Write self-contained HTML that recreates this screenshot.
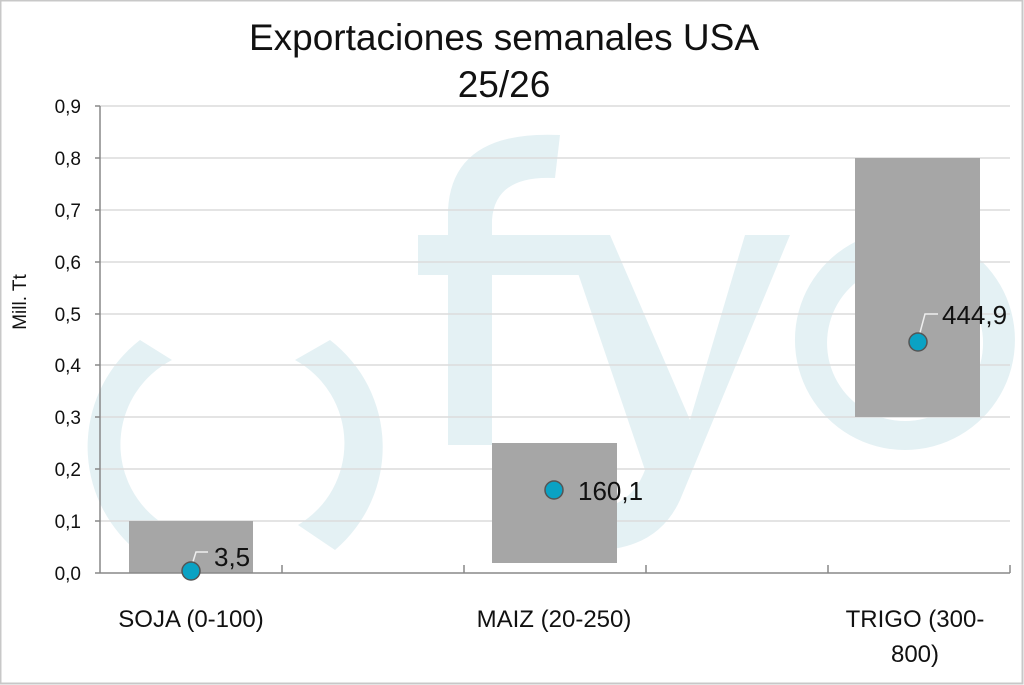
<!DOCTYPE html>
<html><head><meta charset="utf-8"><style>
html,body{margin:0;padding:0;background:#fff}
svg{display:block}
text{font-family:"Liberation Sans",sans-serif;fill:#111}
</style></head><body>
<svg width="1024" height="685" viewBox="0 0 1024 685" xmlns="http://www.w3.org/2000/svg">
<rect x="0.5" y="0.5" width="1022" height="683" fill="#fff" stroke="#c8c8c8" stroke-width="2"/>
<!-- watermark -->
<g fill="#e4f1f4" stroke="none">
<path d="M140 340 A135 135 0 0 0 130 545 L165 525 A95 95 0 0 1 172 360 Z"/>
<path d="M330 340 A135 135 0 0 1 335 550 L298 525 A95 95 0 0 0 295 360 Z"/>
<path d="M448 445 L448 210 Q452 130 560 135 L555 178 Q495 175 492 220 L492 445 Z"/>
<rect x="418" y="235" width="185" height="40"/>
<path d="M565 235 L610 235 L690 420 L745 235 L790 235 L680 500 Q655 555 580 550 L585 510 Q630 510 645 470 Z"/>
<path fill-rule="evenodd" d="M905 230 A110 110 0 1 1 904.9 230 Z M905 265 A78 78 0 1 0 905.1 265 Z"/>
</g>
<!-- grid -->
<g stroke="#dcdcdc" stroke-width="1.5">
<line x1="100" y1="106" x2="1010" y2="106"/>
<line x1="100" y1="158" x2="1010" y2="158"/>
<line x1="100" y1="210" x2="1010" y2="210"/>
<line x1="100" y1="262" x2="1010" y2="262"/>
<line x1="100" y1="314" x2="1010" y2="314"/>
<line x1="100" y1="365" x2="1010" y2="365"/>
<line x1="100" y1="417" x2="1010" y2="417"/>
<line x1="100" y1="469" x2="1010" y2="469"/>
<line x1="100" y1="521" x2="1010" y2="521"/>
</g>
<!-- bars -->
<g fill="#a6a6a6">
<rect x="129" y="521" width="124" height="52"/>
<rect x="492" y="443" width="125" height="120"/>
<rect x="855" y="158" width="125" height="259"/>
</g>
<!-- axes -->
<g stroke="#888" stroke-width="1.5">
<line x1="100" y1="106" x2="100" y2="573"/>
<line x1="100" y1="573" x2="1010" y2="573"/>
<line x1="95" y1="106" x2="100" y2="106"/><line x1="95" y1="158" x2="100" y2="158"/>
<line x1="95" y1="210" x2="100" y2="210"/><line x1="95" y1="262" x2="100" y2="262"/>
<line x1="95" y1="314" x2="100" y2="314"/><line x1="95" y1="365" x2="100" y2="365"/>
<line x1="95" y1="417" x2="100" y2="417"/><line x1="95" y1="469" x2="100" y2="469"/>
<line x1="95" y1="521" x2="100" y2="521"/><line x1="95" y1="573" x2="100" y2="573"/>
<line x1="282" y1="565" x2="282" y2="573"/><line x1="464" y1="565" x2="464" y2="573"/>
<line x1="646" y1="565" x2="646" y2="573"/><line x1="828" y1="565" x2="828" y2="573"/>
<line x1="1010" y1="565" x2="1010" y2="573"/>
</g>
<!-- y labels -->
<g font-size="19" text-anchor="end">
<text x="81" y="113">0,9</text><text x="81" y="165">0,8</text><text x="81" y="217">0,7</text>
<text x="81" y="269">0,6</text><text x="81" y="321">0,5</text><text x="81" y="372">0,4</text>
<text x="81" y="424">0,3</text><text x="81" y="476">0,2</text><text x="81" y="528">0,1</text>
<text x="81" y="580">0,0</text>
</g>
<text transform="translate(26,302) rotate(-90)" font-size="19" text-anchor="middle">Mill. Tt</text>
<!-- x labels -->
<g font-size="24" text-anchor="middle">
<text x="191" y="627">SOJA (0-100)</text>
<text x="554" y="627">MAIZ (20-250)</text>
<text x="915" y="627">TRIGO (300-</text>
<text x="915" y="662">800)</text>
</g>
<!-- title -->
<text x="504" y="50" font-size="37" text-anchor="middle">Exportaciones semanales USA</text>
<text x="504" y="97" font-size="37" text-anchor="middle">25/26</text>
<!-- leaders -->
<g stroke="#eee" stroke-width="1.5" fill="none">
<polyline points="191,568 196,552 208,552"/>
<polyline points="918,340 925,314 938,314"/>
</g>
<!-- points -->
<g fill="#0aa2c4" stroke="#555" stroke-width="1.5">
<circle cx="191" cy="571" r="9"/>
<circle cx="554" cy="490" r="9"/>
<circle cx="918" cy="342" r="9"/>
</g>
<g font-size="26">
<text x="214" y="566">3,5</text>
<text x="578" y="500">160,1</text>
<text x="942" y="324">444,9</text>
</g>
</svg>
</body></html>
